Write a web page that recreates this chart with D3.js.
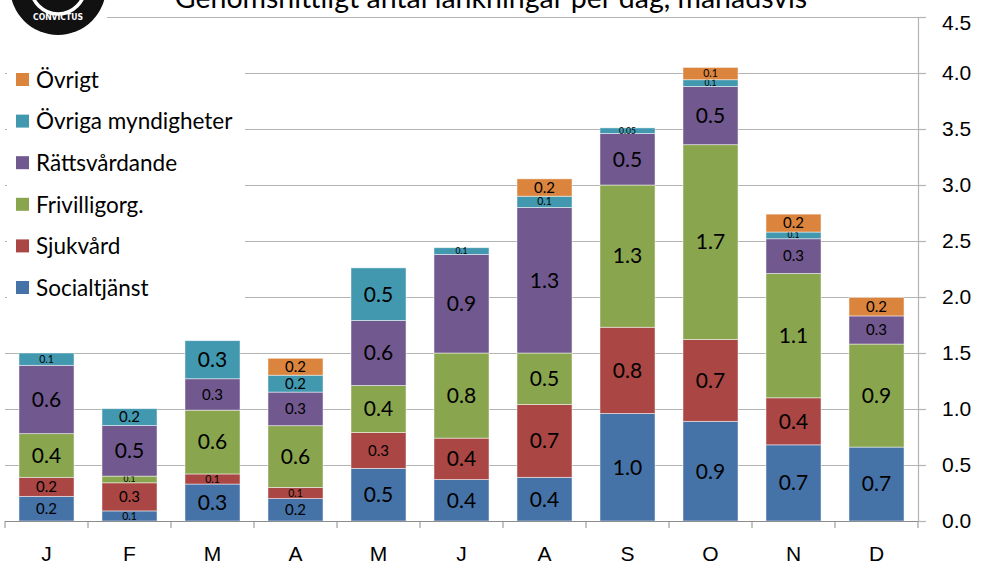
<!DOCTYPE html>
<html>
<head>
<meta charset="utf-8">
<script src="https://cdn.jsdelivr.net/npm/d3@7"></script>
<style>
  body { margin: 0; background: #fff; }
  svg { display: block; font-family: Lato, "Open Sans", sans-serif; }
</style>
</head>
<body>
<svg id="chart"></svg>
<script>
// months and series (values per day)
let months = ["J", "F", "M", "A", "M", "J", "A", "S", "O", "N", "D"]
let socialtjanst      = [0.22, 0.09, 0.33, 0.20, 0.47, 0.37, 0.39, 0.96, 0.89, 0.68, 0.66]
let sjukvard          = [0.17, 0.251, 0.09, 0.10, 0.32, 0.37, 0.65, 0.77, 0.73, 0.42, 0]
let frivilligorg      = [0.39, 0.06, 0.57, 0.551, 0.42, 0.76, 0.46, 1.27, 1.74, 1.11, 0.92]
let rattsvardande     = [0.61, 0.451, 0.28, 0.30, 0.58, 0.88, 1.30, 0.46, 0.52, 0.31, 0.251]
let ovrigaMyndigheter = [0.11, 0.151, 0.34, 0.151, 0.47, 0.06, 0.10, 0.05, 0.06, 0.06, 0]
let ovrigt            = [0, 0, 0, 0.151, 0, 0, 0.155, 0, 0.11, 0.16, 0.165]

let seriesNames = ["Socialtjänst", "Sjukvård", "Frivilligorg.", "Rättsvårdande", "Övriga myndigheter", "Övrigt"]
let seriesValues = [socialtjanst, sjukvard, frivilligorg, rattsvardande, ovrigaMyndigheter, ovrigt]
let colors = ["#4572A7", "#AA4643", "#89A54E", "#71588F", "#4198AF", "#DB843D"]
let yTicks = [0, 0.5, 1, 1.5, 2, 2.5, 3, 3.5, 4, 4.5]
let title = "Genomsnittligt antal länkningar per dag, månadsvis"

let width = 981
let height = 564
let plotLeft = 5
let plotRight = 918
let plotBottom = 521
let plotTop = 17

let svg = d3.select("#chart").attr("width", width).attr("height", height)

let rows = months.map((m, i) => {
    let r = { i: i }
    seriesNames.forEach((s, k) => { r[s] = seriesValues[k][i] })
    return r
})
let stacked = d3.stack().keys(seriesNames)(rows)

let xScale = d3.scaleBand()
               .domain(d3.range(months.length))
               .range([plotLeft, plotRight])
               .paddingInner(0.337)
               .paddingOuter(0.337 / 2)
let yScale = d3.scaleLinear().domain([0, 4.5]).range([plotBottom, plotTop])

// gridlines
let grid = svg.append("g")
    .attr("transform", "translate(" + (plotRight + 8) + ",0)")
    .call(d3.axisLeft(yScale).tickValues(yTicks).tickSize(plotRight + 8 - plotLeft).tickFormat(""))
grid.select(".domain").remove()
grid.selectAll("line").attr("stroke", "#b4b4b4").attr("stroke-width", 1.2)

// bars
let groups = svg.append("g").selectAll("g")
    .data(stacked)
    .enter()
    .append("g")
    .attr("fill", (d, k) => colors[k])

groups.selectAll("rect")
    .data(d => d.filter(p => p[1] - p[0] > 0))
    .enter()
    .append("rect")
    .attr("x", p => xScale(p.data.i))
    .attr("width", xScale.bandwidth())
    .attr("y", p => yScale(p[1]))
    .attr("height", p => yScale(p[0]) - yScale(p[1]))
    .attr("stroke", "#ffffff")
    .attr("stroke-opacity", 0.6)
    .attr("stroke-width", 0.8)

let labelSize = (h) => h >= 36 ? 21 : h >= 15 ? 15 : h >= 9 ? 10.5 : 8.5

groups.selectAll("text")
    .data(d => d.filter(p => p[1] - p[0] > 0))
    .enter()
    .append("text")
    .attr("x", p => xScale(p.data.i) + xScale.bandwidth() / 2)
    .attr("y", p => (yScale(p[0]) + yScale(p[1])) / 2)
    .attr("dy", "0.35em")
    .attr("text-anchor", "middle")
    .attr("fill", "#000")
    .style("font-size", p => labelSize(yScale(p[0]) - yScale(p[1])) + "px")
    .text(p => {
        let v = p[1] - p[0]
        return v < 0.055 ? d3.format(".2f")(v) : d3.format(".1f")(v)
    })

// bottom axis
let xAxis = svg.append("g")
    .attr("transform", "translate(0," + plotBottom + ")")
    .call(d3.axisBottom(xScale).tickSize(0).tickPadding(25).tickFormat(i => months[i]))
xAxis.select(".domain").attr("stroke", "#8c8c8c").attr("d", "M" + plotLeft + ",0.5H" + plotRight)
xAxis.selectAll("text").style("font-size", "21px").attr("fill", "#000")
let step = xScale.step()
svg.append("g").selectAll("line")
    .data(d3.range(months.length + 1))
    .enter()
    .append("line")
    .attr("x1", i => xScale(0) - step * 0.337 / 2 + i * step)
    .attr("x2", i => xScale(0) - step * 0.337 / 2 + i * step)
    .attr("y1", plotBottom)
    .attr("y2", plotBottom + 7)
    .attr("stroke", "#8c8c8c")

// right axis
let yAxis = svg.append("g")
    .attr("transform", "translate(" + plotRight + ",0)")
    .call(d3.axisRight(yScale).tickValues(yTicks).tickSize(8).tickPadding(16).tickFormat(d3.format(".1f")))
yAxis.select(".domain").attr("stroke", "#b4b4b4").attr("stroke-width", 1.2)
yAxis.selectAll("line").attr("stroke", "#b4b4b4").attr("stroke-width", 1.2)
yAxis.selectAll("text").style("font-size", "21px").attr("fill", "#000")
// top label sits a little lower so it is not clipped
yAxis.selectAll(".tick").filter(d => d === 4.5).select("text").attr("y", 6)

// legend
let legend = svg.append("g")
legend.append("rect").attr("x", 7).attr("y", 60).attr("width", 238).attr("height", 245).attr("fill", "#fff")
let legendItems = legend.selectAll("g")
    .data(seriesNames.map((s, k) => ({ name: s, color: colors[k] })).reverse())
    .enter()
    .append("g")
    .attr("transform", (d, i) => "translate(16," + (80 + i * 41.6) + ")")
legendItems.append("rect")
    .attr("x", 0).attr("y", -7).attr("width", 13).attr("height", 13)
    .attr("fill", d => d.color)
legendItems.append("text")
    .attr("x", 20).attr("dy", "0.35em")
    .style("font-size", "22.5px")
    .text(d => d.name)

// title
svg.append("text")
   .attr("x", 491).attr("y", 8)
   .attr("text-anchor", "middle")
   .style("font-size", "28.5px")
   .text(title)

// logo
let logo = svg.append("g")
logo.append("rect").attr("x", 0).attr("y", 0).attr("width", 107).attr("height", 37).attr("fill", "#fff")
logo.append("circle").attr("cx", 58).attr("cy", -13).attr("r", 48).attr("fill", "#111")
logo.append("circle").attr("cx", 58).attr("cy", -13).attr("r", 27).attr("fill", "none")
    .attr("stroke", "#fff").attr("stroke-width", 3.5)
logo.append("text")
    .attr("x", 58).attr("y", 20)
    .attr("text-anchor", "middle")
    .attr("fill", "#fff")
    .attr("textLength", 50)
    .attr("lengthAdjust", "spacingAndGlyphs")
    .style("font-family", "'DejaVu Sans Condensed', 'DejaVu Sans', sans-serif")
    .style("font-weight", "bold")
    .style("font-size", "9.5px")
    .text("CONVICTUS")
</script>
</body>
</html>
